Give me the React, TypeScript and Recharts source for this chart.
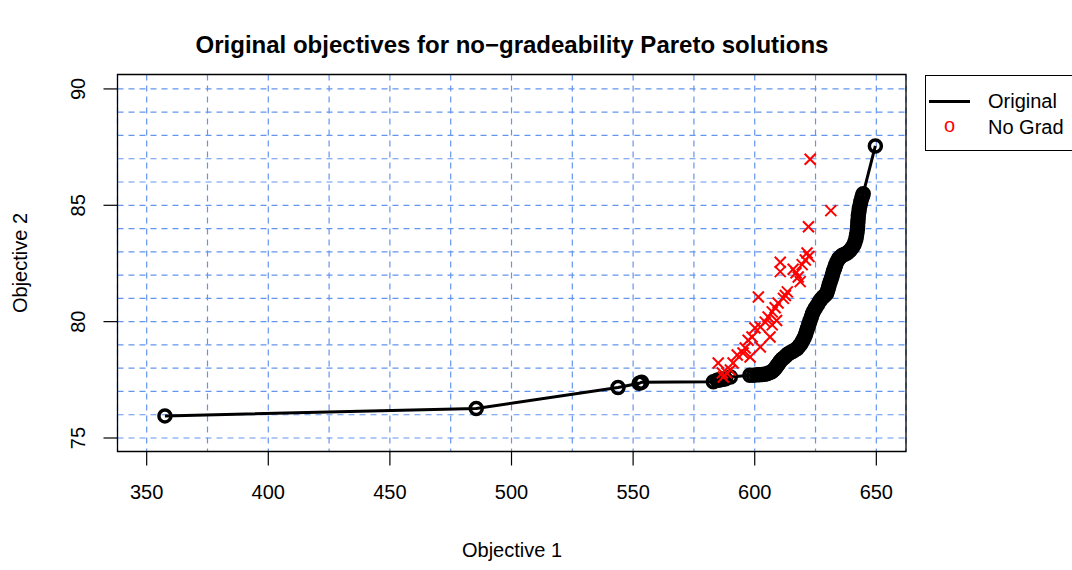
import React from "react";
import { ComposedChart, Scatter, XAxis, YAxis, CartesianGrid, ReferenceArea } from "recharts";

// Pareto front of the original problem (objective 1, objective 2)
const originalPoints: [number, number][] = [
  [357.5, 75.95], [485.5, 76.27], [543.8, 77.17], [552.5, 77.35], [553.5, 77.4],
  [583, 77.42], [584.5, 77.48], [585.2, 77.49], [586, 77.5], [587, 77.52],
  [588, 77.55], [590, 77.62],
  [598, 77.7], [599.5, 77.7], [601, 77.72], [602, 77.72], [603, 77.73],
  [604, 77.74], [605, 77.76], [606, 77.8], [607, 77.85], [607.8, 77.92],
  [608.5, 78.0], [609, 78.08], [609.5, 78.15], [610, 78.22], [610.5, 78.3],
  [611.2, 78.38], [612, 78.45], [612.8, 78.52], [613.5, 78.6], [614.5, 78.66],
  [615.5, 78.72], [616.5, 78.78], [617.5, 78.85], [618.3, 78.95], [619, 79.05],
  [619.7, 79.18], [620.3, 79.3], [620.8, 79.42], [621.2, 79.55], [621.6, 79.68],
  [622, 79.8], [622.4, 79.92], [622.8, 80.05], [623.3, 80.2], [623.8, 80.35],
  [624.4, 80.48], [625, 80.6], [625.8, 80.72], [626.5, 80.85], [627.2, 80.95],
  [628, 81.05], [628.8, 81.12], [629.5, 81.2], [629.9, 81.32], [630.3, 81.45],
  [630.6, 81.58], [631, 81.7], [631.4, 81.82], [631.8, 81.95], [632.1, 82.08],
  [632.5, 82.2], [632.9, 82.32], [633.3, 82.45], [633.9, 82.58], [634.5, 82.7],
  [635.2, 82.78], [636, 82.85], [637, 82.9], [638, 82.95], [638.8, 83.02],
  [639.5, 83.1], [640.2, 83.2], [640.8, 83.3], [641.2, 83.42], [641.6, 83.55],
  [641.8, 83.68], [642, 83.8], [642.2, 83.95], [642.3, 84.1], [642.4, 84.25],
  [642.5, 84.4], [642.6, 84.55], [642.8, 84.7], [643, 84.85], [643.3, 85.0],
  [643.6, 85.15], [644, 85.3], [644.3, 85.4], [644.6, 85.5], [649.6, 87.55],
];

// same solutions re-evaluated without gradeability
const noGradPoints: [number, number][] = [
  [622.8, 86.98], [631.3, 84.77], [622.1, 84.08], [621.5, 82.95], [622.3, 82.8],
  [620.8, 82.65], [619.5, 82.45], [610.5, 82.55], [610.5, 82.15], [615.8, 82.25],
  [617, 82.1], [617.9, 81.92], [618.7, 81.72], [601.5, 81.06], [613.4, 81.28],
  [612.6, 81.12], [611.8, 81.0], [609.6, 80.8], [608.4, 80.6], [607.2, 80.42],
  [605.5, 80.2], [604.3, 79.98], [607.2, 79.86], [609, 80.05], [602.3, 79.77],
  [600.1, 79.73], [606.3, 79.34], [598.9, 79.34], [597.3, 79.2], [602.3, 78.91],
  [596.1, 78.87], [595.2, 78.65], [592.8, 78.57], [598.1, 78.48], [591.1, 78.22],
  [585, 78.22], [590, 77.92], [586.7, 77.79], [587.1, 77.62], [588.5, 77.8],
];

const xTicks = [350, 400, 450, 500, 550, 600, 650];
const yTicks = [75, 80, 85, 90];
const gridX = [350, 375, 400, 425, 450, 475, 500, 525, 550, 575, 600, 625, 650];
const gridY = [75, 76, 77, 78, 79, 80, 81, 82, 83, 84, 85, 86, 87, 88, 89, 90];
const xDomain: [number, number] = [338, 662.2];
const yDomain: [number, number] = [74.42, 90.62];

const FONT = "'Liberation Sans', Arial, Helvetica, sans-serif";

const originalData = originalPoints.map(([x, y]) => ({ x, y }));
const noGradData = noGradPoints.map(([x, y]) => ({ x, y }));

const OpenCircle = (p: any) => (
  <circle cx={p.cx} cy={p.cy} r={6} fill="none" stroke="#000" strokeWidth={3.5} />
);

const Cross = (p: any) => {
  const s = 5.5;
  return (
    <g stroke="#ff0000" strokeWidth={2}>
      <line x1={p.cx - s} y1={p.cy - s} x2={p.cx + s} y2={p.cy + s} />
      <line x1={p.cx - s} y1={p.cy + s} x2={p.cx + s} y2={p.cy - s} />
    </g>
  );
};

const YTick = (p: any) => (
  <text
    x={p.x}
    y={p.y}
    transform={`rotate(-90 ${p.x} ${p.y})`}
    textAnchor="middle"
    fontSize={20}
    fontFamily={FONT}
    fill="#000"
  >
    {p.payload.value}
  </text>
);

const centered = (left: number, top: number): React.CSSProperties => ({
  position: "absolute",
  left,
  top,
  transform: "translate(-50%, -50%)",
  whiteSpace: "nowrap",
  lineHeight: 1,
});

export default function App() {
  return (
    <div
      style={{
        position: "absolute",
        left: 0,
        top: 0,
        width: 1072,
        height: 570,
        overflow: "hidden",
        background: "#fff",
        fontFamily: FONT,
        color: "#000",
      }}
    >
      <ComposedChart
        width={1072}
        height={570}
        margin={{ top: 74.5, right: 166, bottom: 58.5, left: 57.5 }}
      >
        <XAxis xAxisId="grid" type="number" dataKey="x" domain={xDomain} ticks={gridX} hide height={0} allowDataOverflow />
        <YAxis yAxisId="grid" type="number" dataKey="y" domain={yDomain} ticks={gridY} hide width={0} allowDataOverflow />
        <CartesianGrid
          xAxisId="grid"
          yAxisId="grid"
          stroke="#6495ED"
          strokeDasharray="6 5"
          strokeWidth={1.2}
        />
        <XAxis
          xAxisId="main"
          type="number"
          dataKey="x"
          domain={xDomain}
          ticks={xTicks}
          allowDataOverflow
          axisLine={false}
          tickSize={14}
          tickMargin={19}
          height={60}
          tickLine={{ stroke: "#000", strokeWidth: 1.2 }}
          tick={{ fontSize: 20, fill: "#000", fontFamily: FONT }}
        />
        <YAxis
          yAxisId="main"
          type="number"
          dataKey="y"
          domain={yDomain}
          ticks={yTicks}
          allowDataOverflow
          axisLine={false}
          width={60}
          tickSize={14}
          tickMargin={18.5}
          tickLine={{ stroke: "#000", strokeWidth: 1.2 }}
          tick={<YTick />}
        />
        <ReferenceArea
          xAxisId="main"
          yAxisId="main"
          x1={xDomain[0]}
          x2={xDomain[1]}
          y1={yDomain[0]}
          y2={yDomain[1]}
          fill="none"
          fillOpacity={0}
          stroke="#000"
          strokeWidth={1.3}
          ifOverflow="visible"
        />
        <Scatter
          xAxisId="main"
          yAxisId="main"
          name="Original"
          data={originalData}
          line={{ stroke: "#000", strokeWidth: 3 }}
          lineType="joint"
          lineJointType="linear"
          shape={<OpenCircle />}
          isAnimationActive={false}
        />
        <Scatter
          xAxisId="main"
          yAxisId="main"
          name="No Grad"
          data={noGradData}
          shape={<Cross />}
          isAnimationActive={false}
        />
      </ComposedChart>

      <div style={{ ...centered(512, 45), fontSize: 24, fontWeight: "bold" }}>
        Original objectives for no−gradeability Pareto solutions
      </div>
      <div style={{ ...centered(512, 550), fontSize: 20 }}>Objective 1</div>
      <div style={{ ...centered(20, 263), fontSize: 20, transform: "translate(-50%, -50%) rotate(-90deg)" }}>
        Objective 2
      </div>

      <div
        style={{
          position: "absolute",
          left: 925,
          top: 75,
          width: 180,
          height: 76,
          border: "1.3px solid #000",
          boxSizing: "border-box",
        }}
      />
      <div style={{ position: "absolute", left: 929, top: 99.5, width: 41, height: 3, background: "#000" }} />
      <div style={{ ...centered(988, 101), transform: "translate(0, -50%)", fontSize: 20 }}>Original</div>
      <div style={{ ...centered(949.5, 125), fontSize: 20, color: "#ff0000" }}>o</div>
      <div style={{ ...centered(988, 127), transform: "translate(0, -50%)", fontSize: 20 }}>No Grad</div>
    </div>
  );
}
